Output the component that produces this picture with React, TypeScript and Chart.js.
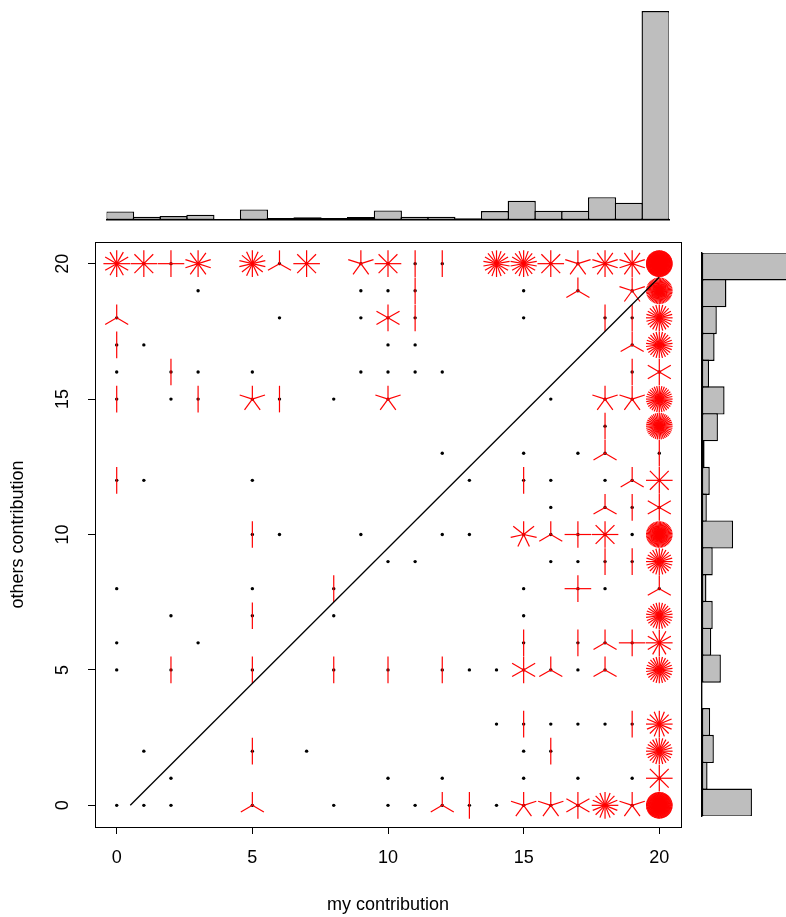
import React, { useEffect, useRef } from "react";
import { Chart, registerables } from "chart.js";

Chart.register(...registerables);

const PAGE_W = 786;
const PAGE_H = 917;
const FONT = '"Liberation Sans", Arial, Helvetica, sans-serif';

// ---- sunflower data: my contribution (x), others contribution (y), number of cases (n)
const sunX = [
  // y = 20
  0, 1, 2, 3, 5, 6, 7, 9, 10, 11, 12, 14, 15, 16, 17, 18, 19, 20,
  // y = 19
  3, 9, 10, 11, 15, 17, 19, 20,
  // y = 18
  0, 6, 9, 10, 11, 15, 18, 19, 20,
  // y = 17
  0, 1, 10, 11, 19, 20,
  // y = 16
  0, 2, 3, 5, 9, 10, 11, 12, 19, 20,
  // y = 15
  0, 2, 3, 5, 6, 8, 10, 16, 18, 19, 20,
  // y = 14
  18, 20,
  // y = 13
  12, 15, 17, 18, 20,
  // y = 12
  0, 1, 5, 13, 15, 16, 18, 19, 20,
  // y = 11
  16, 18, 19, 20,
  // y = 10
  5, 6, 9, 12, 13, 15, 16, 17, 18, 19, 20,
  // y = 9
  10, 11, 16, 17, 18, 19, 20,
  // y = 8
  0, 5, 8, 15, 17, 18, 20,
  // y = 7
  2, 5, 8, 15, 20,
  // y = 6
  0, 3, 15, 17, 18, 19, 20,
  // y = 5
  0, 2, 5, 8, 10, 12, 13, 14, 15, 16, 17, 18, 20,
  // y = 3
  14, 15, 16, 17, 18, 19, 20,
  // y = 2
  1, 5, 7, 15, 16, 20,
  // y = 1
  2, 10, 12, 15, 17, 19, 20,
  // y = 0
  0, 1, 2, 5, 8, 10, 11, 12, 13, 14, 15, 16, 17, 18, 19, 20,
];
const sunY = [
  20, 20, 20, 20, 20, 20, 20, 20, 20, 20, 20, 20, 20, 20, 20, 20, 20, 20,
  19, 19, 19, 19, 19, 19, 19, 19,
  18, 18, 18, 18, 18, 18, 18, 18, 18,
  17, 17, 17, 17, 17, 17,
  16, 16, 16, 16, 16, 16, 16, 16, 16, 16,
  15, 15, 15, 15, 15, 15, 15, 15, 15, 15, 15,
  14, 14,
  13, 13, 13, 13, 13,
  12, 12, 12, 12, 12, 12, 12, 12, 12,
  11, 11, 11, 11,
  10, 10, 10, 10, 10, 10, 10, 10, 10, 10, 10,
  9, 9, 9, 9, 9, 9, 9,
  8, 8, 8, 8, 8, 8, 8,
  7, 7, 7, 7, 7,
  6, 6, 6, 6, 6, 6, 6,
  5, 5, 5, 5, 5, 5, 5, 5, 5, 5, 5, 5, 5,
  3, 3, 3, 3, 3, 3, 3,
  2, 2, 2, 2, 2, 2,
  1, 1, 1, 1, 1, 1, 1,
  0, 0, 0, 0, 0, 0, 0, 0, 0, 0, 0, 0, 0, 0, 0, 0,
];
const sunN = [
  12, 8, 4, 10, 14, 3, 8, 5, 8, 2, 2, 18, 18, 8, 5, 10, 10, 120,
  1, 1, 1, 2, 1, 3, 5, 52,
  3, 1, 1, 6, 2, 1, 2, 2, 24,
  2, 1, 1, 1, 3, 26,
  1, 2, 1, 1, 1, 1, 1, 1, 2, 6,
  2, 1, 2, 5, 2, 1, 5, 1, 5, 5, 32,
  2, 40,
  1, 1, 1, 3, 2,
  2, 1, 1, 1, 2, 1, 1, 3, 8,
  1, 3, 2, 6,
  2, 1, 1, 1, 1, 7, 3, 4, 8, 1, 55,
  1, 1, 1, 1, 2, 2, 24,
  1, 1, 2, 1, 4, 1, 3,
  1, 2, 1, 1, 26,
  1, 1, 2, 2, 3, 4, 12,
  1, 2, 2, 2, 2, 2, 1, 1, 6, 3, 1, 3, 26,
  1, 2, 1, 1, 1, 2, 16,
  1, 2, 1, 1, 2, 24,
  1, 1, 1, 1, 1, 1, 8,
  1, 1, 1, 3, 1, 1, 1, 3, 2, 1, 5, 5, 6, 16, 5, 100,
];

// reference line
const refLineX = [0.5, 20];
const refLineY = [0, 19.5];

// axes
const axisTicks = [0, 5, 10, 15, 20];
const xTitle = "my contribution";
const yTitle = "others contribution";

// marginal histograms
const topHistBins = ["0", "1", "2", "3", "4", "5", "6", "7", "8", "9", "10", "11", "12", "13", "14", "15", "16", "17", "18", "19", "20"];
const topHistCounts = [26, 10, 12, 16, 0, 32, 6, 8, 6, 9, 29, 10, 10, 5, 27, 58, 28, 28, 69, 52, 633];
const rightHistBins = ["20", "19", "18", "17", "16", "15", "14", "13", "12", "11", "10", "9", "8", "7", "6", "5", "4", "3", "2", "1", "0"];
const rightHistCounts = [269, 66, 40, 34, 19, 61, 43, 7, 21, 13, 84, 29, 12, 29, 25, 51, 0, 22, 32, 15, 135];
const rightHistMax = 227;

const PETAL = 13.3;

const sunflowerPlugin = {
  id: "sunflowerPetals",
  afterDatasetDraw(chart: any, args: any) {
    if (args.index !== 1) return;
    const ctx = chart.ctx;
    const a = chart.chartArea;
    ctx.save();
    ctx.beginPath();
    ctx.rect(a.left, a.top, a.right - a.left, a.bottom - a.top);
    ctx.clip();
    ctx.strokeStyle = "#FF0000";
    ctx.lineWidth = 1.2;
    args.meta.data.forEach((el: any, i: number) => {
      const n = sunN[i];
      if (n < 2) return;
      for (let k = 1; k <= n; k++) {
        const ang = (2 * Math.PI * k) / n;
        ctx.beginPath();
        ctx.moveTo(el.x, el.y);
        ctx.lineTo(el.x + PETAL * Math.sin(ang), el.y - PETAL * Math.cos(ang));
        ctx.stroke();
      }
    });
    ctx.restore();
  },
};

const framePlugin = {
  id: "frameAndLabels",
  afterDraw(chart: any) {
    const { ctx, chartArea: a, scales } = chart;
    ctx.save();
    ctx.strokeStyle = "#000";
    ctx.lineWidth = 1;
    ctx.strokeRect(Math.round(a.left) + 0.5, Math.round(a.top) + 0.5, Math.round(a.right - a.left), Math.round(a.bottom - a.top));
    ctx.fillStyle = "#000";
    ctx.font = `18px ${FONT}`;
    ctx.textAlign = "center";
    ctx.textBaseline = "middle";
    axisTicks.forEach((v) => {
      ctx.fillText(String(v), scales.x.getPixelForValue(v), a.bottom + 31);
    });
    axisTicks.forEach((v) => {
      ctx.save();
      ctx.translate(a.left - 32, scales.y.getPixelForValue(v));
      ctx.rotate(-Math.PI / 2);
      ctx.fillText(String(v), 0, 0);
      ctx.restore();
    });
    ctx.fillText(xTitle, (a.left + a.right) / 2, a.bottom + 78);
    ctx.save();
    ctx.translate(18, (a.top + a.bottom) / 2);
    ctx.rotate(-Math.PI / 2);
    ctx.fillText(yTitle, 0, 0);
    ctx.restore();
    ctx.restore();
  },
};

function mainConfig(): any {
  const pts = sunX.map((x, i) => ({ x, y: sunY[i] }));
  const linePts = refLineX.map((x, i) => ({ x, y: refLineY[i] }));
  const tickAxis = (size: number, horizontal: boolean) => ({
    type: "linear",
    min: -0.8,
    max: 20.8,
    afterBuildTicks: (s: any) => {
      s.ticks = axisTicks.map((v) => ({ value: v }));
    },
    grid: { display: true, drawOnChartArea: false, drawTicks: true, tickLength: 7, color: "#000", lineWidth: 1 },
    border: { display: false },
    ticks: { display: false },
    afterFit: (s: any) => {
      if (horizontal) s.height = size;
      else s.width = size;
    },
  });
  return {
    type: "scatter",
    data: {
      datasets: [
        {
          type: "line",
          data: linePts,
          borderColor: "#000",
          borderWidth: 1.3,
          pointRadius: 0,
          fill: false,
          tension: 0,
        },
        {
          type: "scatter",
          data: pts,
          pointRadius: 1.7,
          pointBorderWidth: 0,
          pointBackgroundColor: "#000",
          pointBorderColor: "#000",
        },
      ],
    },
    options: {
      responsive: false,
      animation: false,
      devicePixelRatio: 1,
      events: [],
      layout: { padding: { left: 0, top: 242, right: PAGE_W - 681, bottom: 0 } },
      plugins: { legend: { display: false }, tooltip: { enabled: false } },
      scales: {
        x: { ...tickAxis(PAGE_H - 827, true), position: "bottom" },
        y: { ...tickAxis(95, false), position: "left" },
      },
    },
    plugins: [sunflowerPlugin, framePlugin],
  };
}

function topConfig(): any {
  const binW = (669 - 106.7) / 21;
  return {
    type: "bar",
    data: {
      labels: topHistBins,
      datasets: [
        {
          data: topHistCounts,
          backgroundColor: "#BEBEBE",
          borderColor: "#000",
          borderWidth: 1.4,
          borderSkipped: false,
          barPercentage: 1 + 1.4 / binW,
          categoryPercentage: 1,
        },
      ],
    },
    options: {
      responsive: false,
      animation: false,
      devicePixelRatio: 1,
      events: [],
      layout: { padding: { left: 106.7, right: PAGE_W - 669, top: 11, bottom: PAGE_H - 220 } },
      plugins: { legend: { display: false }, tooltip: { enabled: false } },
      scales: {
        x: {
          display: true,
          grid: { display: false },
          ticks: { display: false },
          border: { display: true, color: "#000", width: 1.4 },
          afterFit: (s: any) => {
            s.height = 0;
          },
        },
        y: { display: false, min: 0, max: Math.max(...topHistCounts) },
      },
    },
  };
}

function rightConfig(): any {
  const binH = (816 - 253) / 21;
  return {
    type: "bar",
    data: {
      labels: rightHistBins,
      datasets: [
        {
          data: rightHistCounts,
          backgroundColor: "#BEBEBE",
          borderColor: "#000",
          borderWidth: 1.4,
          borderSkipped: false,
          barPercentage: 1 + 1.4 / binH,
          categoryPercentage: 1,
        },
      ],
    },
    options: {
      indexAxis: "y",
      responsive: false,
      animation: false,
      devicePixelRatio: 1,
      events: [],
      layout: { padding: { left: 702, right: 0, top: 253, bottom: PAGE_H - 816 } },
      plugins: { legend: { display: false }, tooltip: { enabled: false } },
      scales: {
        y: {
          display: true,
          grid: { display: false },
          ticks: { display: false },
          border: { display: true, color: "#000", width: 1.4 },
          afterFit: (s: any) => {
            s.width = 0;
          },
        },
        x: { display: false, min: 0, max: rightHistMax },
      },
    },
  };
}

export default function App() {
  const mainRef = useRef<HTMLCanvasElement>(null);
  const topRef = useRef<HTMLCanvasElement>(null);
  const rightRef = useRef<HTMLCanvasElement>(null);

  useEffect(() => {
    const charts: Chart[] = [];
    if (mainRef.current) charts.push(new Chart(mainRef.current, mainConfig()));
    if (topRef.current) charts.push(new Chart(topRef.current, topConfig()));
    if (rightRef.current) charts.push(new Chart(rightRef.current, rightConfig()));
    return () => charts.forEach((c) => c.destroy());
  }, []);

  const cStyle: React.CSSProperties = { position: "absolute", left: 0, top: 0, width: PAGE_W, height: PAGE_H };
  return (
    <div style={{ position: "absolute", left: 0, top: 0, width: PAGE_W, height: PAGE_H, background: "#fff", overflow: "hidden" }}>
      <canvas ref={mainRef} width={PAGE_W} height={PAGE_H} style={cStyle} />
      <canvas ref={topRef} width={PAGE_W} height={PAGE_H} style={cStyle} />
      <canvas ref={rightRef} width={PAGE_W} height={PAGE_H} style={cStyle} />
    </div>
  );
}
